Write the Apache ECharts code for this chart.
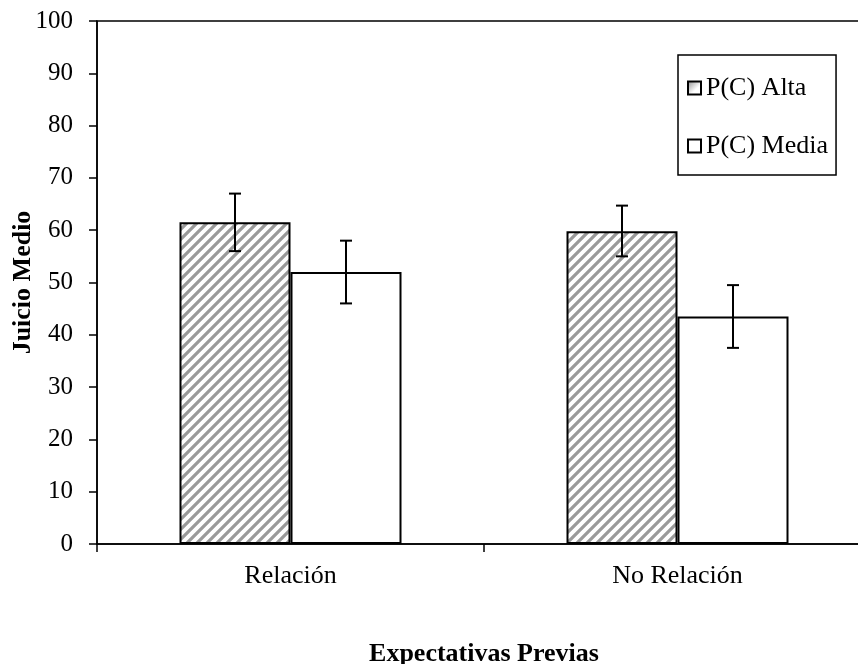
<!DOCTYPE html>
<html>
<head>
<meta charset="utf-8">
<script src="https://cdn.jsdelivr.net/npm/echarts@6/dist/echarts.min.js"></script>
<style>
  html, body { margin: 0; padding: 0; background: #fff; }
  #chart { width: 858px; height: 664px; }
</style>
</head>
<body>
<div id="chart"></div>
<script>
// Mean judgement by prior expectation and P(C) level
const categories = ['Relación', 'No Relación'];
const seriesNames = ['P(C) Alta', 'P(C) Media'];
const altaValues = [61.5, 59.8];
const mediaValues = [52.0, 43.5];
// error bar extents [low, high]
const altaErrors = [[56.0, 67.0], [55.0, 64.7]];
const mediaErrors = [[46.0, 58.0], [37.5, 49.5]];
const yTicks = { min: 0, max: 100, step: 10 };

const FONT = '"Liberation Serif", "DejaVu Serif", serif';

// diagonal hatch fill
function makeHatch() {
  const c = document.createElement('canvas');
  const s = 10;
  c.width = s; c.height = s;
  const ctx = c.getContext('2d');
  ctx.fillStyle = '#fff';
  ctx.fillRect(0, 0, s, s);
  ctx.strokeStyle = '#9a9a9a';
  ctx.lineWidth = 3.2;
  ctx.beginPath();
  ctx.moveTo(-2, s + 2); ctx.lineTo(s + 2, -2);
  ctx.moveTo(-2, 2); ctx.lineTo(2, -2);
  ctx.moveTo(s - 2, s + 2); ctx.lineTo(s + 2, s - 2);
  ctx.stroke();
  return c;
}
const hatch = makeHatch();

const BAR_W = 111;

function errorSeries(name, errors, offset) {
  return {
    type: 'custom',
    name: name + ' error',
    z: 10,
    silent: true,
    legendHoverLink: false,
    data: errors.map((e, i) => [i, e[0], e[1]]),
    renderItem: function (params, api) {
      const lo = api.coord([api.value(0), api.value(1)]);
      const hi = api.coord([api.value(0), api.value(2)]);
      const x = lo[0] + offset;
      const cap = 6;
      const style = { stroke: '#000', lineWidth: 2 };
      return {
        type: 'group',
        children: [
          { type: 'line', shape: { x1: x, y1: lo[1], x2: x, y2: hi[1] }, style: style },
          { type: 'line', shape: { x1: x - cap, y1: lo[1], x2: x + cap, y2: lo[1] }, style: style },
          { type: 'line', shape: { x1: x - cap, y1: hi[1], x2: x + cap, y2: hi[1] }, style: style }
        ]
      };
    }
  };
}

const chart = echarts.init(document.getElementById('chart'), null, { renderer: 'canvas' });
chart.setOption({
  animation: false,
  backgroundColor: '#fff',
  grid: {
    left: 97, top: 21, width: 774, bottom: 120,
    containLabel: false,
    outerBoundsMode: 'none',
    show: true, borderColor: '#000', borderWidth: 1.5, backgroundColor: 'transparent'
  },
  legend: {
    orient: 'vertical',
    left: 678, top: 55,
    padding: [20, 8, 16, 9],
    itemGap: 32,
    itemWidth: 13, itemHeight: 13,
    borderColor: '#000', borderWidth: 1.5,
    backgroundColor: '#fff',
    textStyle: { fontFamily: FONT, fontSize: 26, color: '#000', padding: [0, 0, 0, 0] },
    data: [
      {
        name: seriesNames[0], icon: 'rect',
        itemStyle: {
          color: { type: 'linear', x: 0, y: 0, x2: 1, y2: 1, colorStops: [{ offset: 0, color: '#888' }, { offset: 0.6, color: '#fff' }] },
          borderColor: '#000', borderWidth: 2
        }
      },
      { name: seriesNames[1], icon: 'rect', itemStyle: { color: '#fff', borderColor: '#000', borderWidth: 2 } }
    ]
  },
  xAxis: {
    type: 'category',
    data: categories,
    name: 'Expectativas Previas',
    nameLocation: 'middle',
    nameGap: 97,
    nameMoveOverlap: false,
    nameTextStyle: { fontFamily: FONT, fontSize: 26, fontWeight: 'bold', color: '#000' },
    axisLine: { lineStyle: { color: '#000', width: 1.5 } },
    axisTick: { show: true, alignWithLabel: false, length: 8, lineStyle: { color: '#000', width: 1.5 } },
    axisLabel: { fontFamily: FONT, fontSize: 26, color: '#000', margin: 19 },
    splitLine: { show: false }
  },
  yAxis: {
    type: 'value',
    min: yTicks.min, max: yTicks.max, interval: yTicks.step,
    name: 'Juicio Medio',
    nameLocation: 'middle',
    nameGap: 61,
    nameMoveOverlap: false,
    nameRotate: 90,
    nameTextStyle: { fontFamily: FONT, fontSize: 26, fontWeight: 'bold', color: '#000' },
    axisLine: { show: true, lineStyle: { color: '#000', width: 1.5 } },
    axisTick: { show: true, length: 8, lineStyle: { color: '#000', width: 1.5 } },
    axisLabel: { fontFamily: FONT, fontSize: 25, color: '#000', margin: 24 },
    splitLine: { show: false }
  },
  series: [
    {
      type: 'bar', name: seriesNames[0], data: altaValues,
      barWidth: BAR_W, barGap: '0%',
      itemStyle: { color: { image: hatch, repeat: 'repeat' }, borderColor: '#000', borderWidth: 2 }
    },
    {
      type: 'bar', name: seriesNames[1], data: mediaValues,
      barWidth: BAR_W, barGap: '0%',
      itemStyle: { color: '#fff', borderColor: '#000', borderWidth: 2 }
    },
    errorSeries(seriesNames[0], altaErrors, -BAR_W / 2),
    errorSeries(seriesNames[1], mediaErrors, BAR_W / 2)
  ]
});
</script>
</body>
</html>
